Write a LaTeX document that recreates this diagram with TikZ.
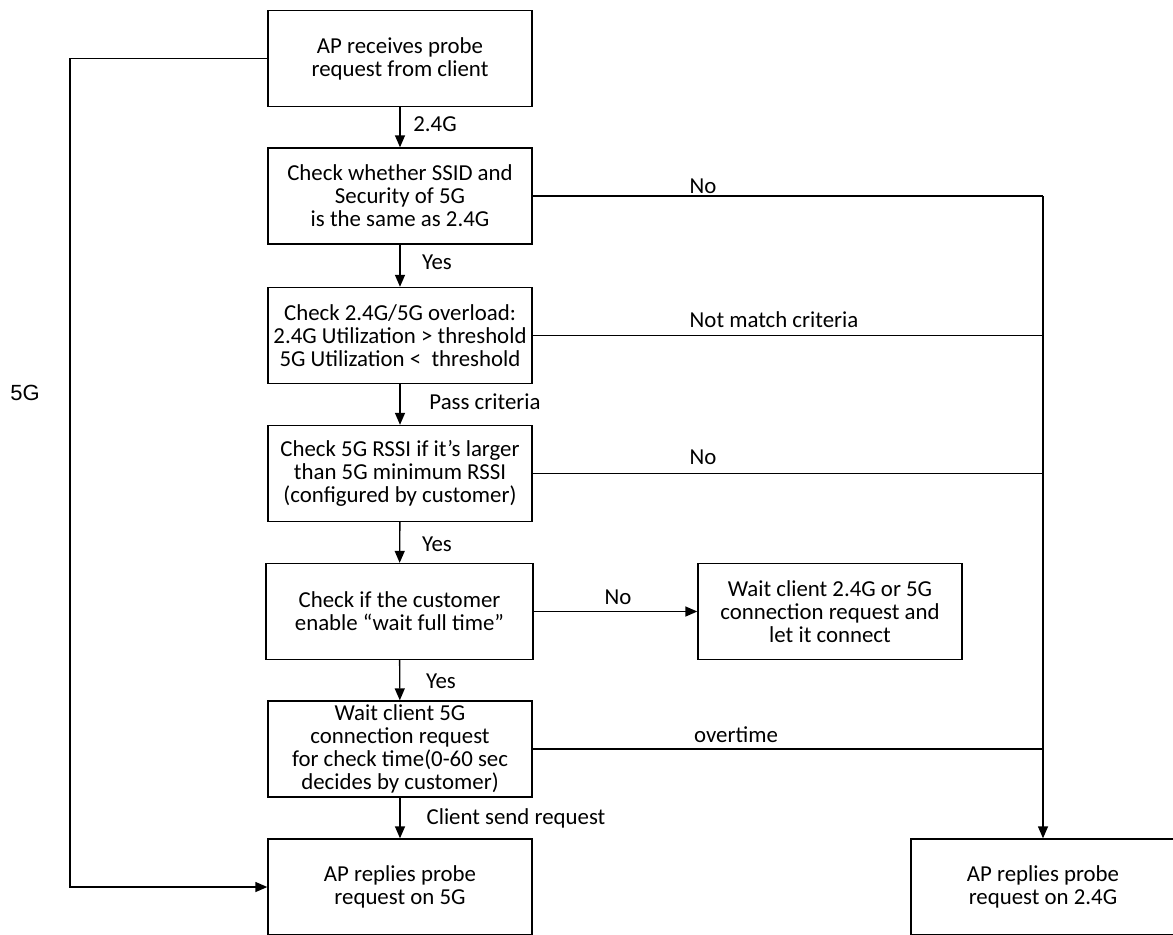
\documentclass[tikz,border=0pt]{standalone}
\usepackage{fontspec}
\setmainfont{Carlito}
\newfontfamily\railfont{Liberation Sans}
\usetikzlibrary{arrows.meta,positioning}

\begin{document}
\begin{tikzpicture}[
  x=0.02cm, y=-0.02cm,
  box/.style={draw, line width=0.8pt, minimum width=5.28cm, minimum height=1.92cm, align=center, inner sep=0pt, font=\fontsize{13}{13.1}\selectfont},
  lab/.style={inner sep=1pt, font=\fontsize{13}{13.1}\selectfont},
  link/.style={line width=0.8pt},
  arrow/.style={link, -{Triangle[length=2.4mm, width=2mm]}}
]
\useasboundingbox (0,0) rectangle (1173,934);
\clip (0,0) rectangle (1173,934);

% main column
\node[box] (recv) at (400,58.5) {AP receives probe\\request from client};
\node[box] (ssid) at (400,196) {Check whether SSID and\\Security of 5G\\is the same as 2.4G};
\node[box] (load) at (400,335.5) {Check 2.4G/5G overload:\\2.4G Utilization > threshold\\5G Utilization <\ \ threshold};
\node[box] (rssi) at (400,473.5) {Check 5G RSSI if it’s larger\\than 5G minimum RSSI\\(configured by customer)};
\node[box, minimum width=5.34cm] (full) at (399.5,611.5) {Check if the customer\\enable “wait full time”};
\node[box] (anyc) at (830,611.5) {Wait client 2.4G or 5G\\connection request and\\let it connect};
\node[box] (wait) at (400,749) {Wait client 5G\\connection request\\for check time(0-60 sec\\decides by customer)};
\node[box] (rep5) at (400,887) {AP replies probe\\request on 5G};
\node[box] (rep24) at (1043,887) {AP replies probe\\request on 2.4G};

% down the column
\draw[arrow] (recv) -- (ssid);
\draw[arrow] (ssid) -- (load);
\draw[arrow] (load) -- (rssi);
\draw[arrow] (rssi) -- (full);
\draw[arrow] (full) -- (wait);
\draw[arrow] (wait) -- (rep5);
\draw[arrow] (full) -- (anyc);

\node[lab] (l24) at (435,124) {2.4G};
\node[lab] (lyes1) at (437,262) {Yes};
\node[lab] (lpass) at (485,402) {Pass criteria};
\node[lab] (lyes2) at (437,544) {Yes};
\node[lab] (lyes3) at (441,681) {Yes};
\node[lab] (lsend) at (516,818) {Client send request};
\node[lab] (lno3) at (618,597) {No};

% right trunk to 2.4G reply
\draw[link] (ssid.east) -- (ssid.east -| rep24.north);
\draw[link] (load.east) -- (load.east -| rep24.north);
\draw[link] (rssi.east) -- (rssi.east -| rep24.north);
\draw[link] (wait.east) -- (wait.east -| rep24.north);
\draw[arrow] (ssid.east -| rep24.north) -- (rep24.north);

\node[lab] (lno1) at (703,186) {No};
\node[lab] (lmiss) at (774,320) {Not match criteria};
\node[lab] (lno2) at (703,457) {No};
\node[lab] (lover) at (736,735) {overtime};

% left rail for 5G
\coordinate (rail5) at (70,0);
\draw[arrow] (recv.west) -- (recv.west -| rail5) |- (rep5.west);
\node[lab, font=\railfont\fontsize{12.5}{14}\selectfont] (l5g) at (25,393) {5G};
\end{tikzpicture}
\end{document}
